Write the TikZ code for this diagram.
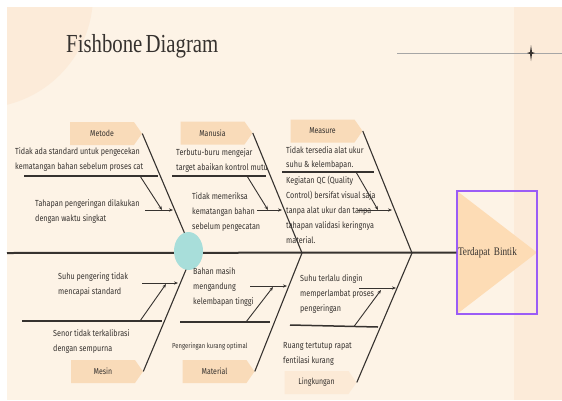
\documentclass[tikz,border=0pt]{standalone}
\usepackage{fontspec}
\usepackage{xcolor}
\usepackage{tikz}
\usetikzlibrary{shapes,arrows,positioning,calc,arrows.meta}
\setmainfont{Liberation Serif}
\newfontfamily\bonefont[FakeStretch=0.82]{Fira Sans}
\newfontfamily\titlefont[FakeStretch=0.8,WordSpace=0.6]{Liberation Serif}
\definecolor{cream}{HTML}{FDF3E6}
\definecolor{stripe}{HTML}{FCEBD9}
\definecolor{peach}{HTML}{F9DBB9}
\definecolor{peachlight}{HTML}{FCEAD6}
\definecolor{headfill}{HTML}{FDDCB5}
\definecolor{violet}{HTML}{9B5CF6}
\definecolor{tealdot}{HTML}{A8DEDA}
\definecolor{ink}{HTML}{36322F}

\tikzset{
  catbox/.style={signal, signal to=east, signal pointer angle=110, fill=peach,
    minimum width=72pt, minimum height=23pt, inner sep=0pt, text=ink,
    font=\bonefont\fontsize{8.5}{10}\selectfont},
  cause/.style={anchor=west, align=left, inner sep=0pt, text=ink,
    font=\bonefont\fontsize{8.8}{15}\selectfont},
  headbox/.style={draw=violet, line width=1.2pt, minimum width=80pt, minimum height=123pt,
    text width=78pt, inner xsep=1pt, align=left, text=ink,
    font=\titlefont\fontsize{11.5}{13}\selectfont,
    path picture={\fill[headfill] (path picture bounding box.north west) --
      (path picture bounding box.east) -- (path picture bounding box.south west) -- cycle;}},
  bone/.style={draw=ink, line width=1.1pt},
  rib/.style={draw=ink, line width=1.5pt},
  tick/.style={draw=ink, line width=0.9pt, ->},
}

\begin{document}
\begin{tikzpicture}[x=1pt, y=-1pt, >={Stealth[length=4pt,width=3.2pt]}]
    \useasboundingbox (0,0) rectangle (562,400);
    % backdrop
    \fill[white] (0,0) rectangle (562,400);
    \fill[cream] (7,7) rectangle (562,400);
    \fill[stripe] (514,7) rectangle (562,400);
    \begin{scope}
        \clip (7,7) rectangle (562,400);
        \fill[stripe] (-20,-5) circle (113pt);
    \end{scope}

    % title and top rule
    \node [anchor=base west, inner sep=0pt, text=ink, font=\titlefont\fontsize{26}{30}\selectfont] (title) at (66,52) {Fishbone Diagram};
    \coordinate (ruleL) at (397,53);
    \coordinate (ruleR) at (562,53);
    \draw [gray!70, line width=0.7pt] (ruleL) -- (ruleR);
    \fill [ink] (531,45) -- (532,52) -- (535,53) -- (532,54) -- (531,61) -- (530,54) -- (527,53) -- (530,52) -- cycle;

    % head and spine
    \node [headbox] (head) at (497,252.5) {Terdapat Bintik};
    \coordinate (tail) at (7,253);
    \draw [ink, line width=2pt] (tail) -- (head.west);
    \coordinate (j1) at (193,253);
    \coordinate (j2) at (302,253);
    \coordinate (j3) at (412,253);

    % categories
    \node [catbox] (metode) at (102,133.5) {Metode};
    \node [catbox] (manusia) at (212.5,133) {Manusia};
    \node [catbox] (measure) at (322.5,131) {Measure};
    \node [catbox] (mesin) at (103,371.5) {Mesin};
    \node [catbox] (material) at (214.5,371.5) {Material};
    \node [catbox, fill=peachlight] (lingkungan) at (316.5,382.5) {Lingkungan};

    \draw [bone] (metode.east) -- (j1);
    \draw [bone] (manusia.east) -- (j2);
    \draw [bone] (measure.east) -- (j3);
    \draw [bone] (j1) -- (mesin.east);
    \draw [bone] (j2) -- (material.east);
    \draw [bone] (j3) -- (lingkungan.east);

    \node [fill=tealdot, ellipse, minimum width=29pt, minimum height=38pt, inner sep=0pt] (dot) at (188.5,251) {};

    % Metode
    \node [cause] (tA) at (15,159) {Tidak ada standard untuk pengecekan\\kematangan bahan sebelum proses cat};
    \node [cause] (tB) at (35,211.5) {Tahapan pengeringan dilakukan\\dengan waktu singkat};
    \coordinate (mtL) at (24,176);
    \coordinate (mtR) at (158,176);
    \coordinate (mtS) at (140,176);
    \coordinate (mtE) at (162,210);
    \coordinate (mtA) at (145,210);
    \coordinate (mtB) at (173,210);
    \draw [rib] (mtL) -- (mtR);
    \draw [tick] (mtS) -- (mtE);
    \draw [tick] (mtA) -- (mtB);

    % Manusia
    \node [cause] (tC) at (176,160) {Terbutu-buru mengejar\\target abaikan kontrol mutu};
    \node [cause] (tD) at (192,212) {Tidak memeriksa\\kematangan bahan\\sebelum pengecatan};
    \coordinate (muL) at (172,176);
    \coordinate (muR) at (266,176);
    \coordinate (muS) at (247,176);
    \coordinate (muE) at (268,210);
    \coordinate (muA) at (257,210);
    \coordinate (muB) at (282,210);
    \draw [rib] (muL) -- (muR);
    \draw [tick] (muS) -- (muE);
    \draw [tick] (muA) -- (muB);

    % Measure
    \node [cause, font=\bonefont\fontsize{8.8}{14}\selectfont] (tE) at (286,158) {Tidak tersedia alat ukur\\suhu \& kelembapan.};
    \node [cause] (tF) at (286,210) {Kegiatan QC (Quality\\Control) bersifat visual saja\\tanpa alat ukur dan tanpa\\tahapan validasi keringnya\\material.};
    \coordinate (meL) at (282,172);
    \coordinate (meR) at (374,172);
    \coordinate (meS) at (356,172);
    \coordinate (meE) at (378,210);
    \coordinate (meA) at (358,210);
    \coordinate (meB) at (392,210);
    \draw [rib] (meL) -- (meR);
    \draw [tick] (meS) -- (meE);
    \draw [tick] (meA) -- (meB);

    % Mesin
    \node [cause] (tG) at (58,284) {Suhu pengering tidak\\mencapai standard};
    \node [cause] (tH) at (53,341) {Senor tidak terkalibrasi\\dengan sempurna};
    \coordinate (msL) at (22,321);
    \coordinate (msR) at (162,321);
    \coordinate (msS) at (140,321);
    \coordinate (msE) at (166,284);
    \coordinate (msA) at (142,283);
    \coordinate (msB) at (178,283);
    \draw [rib] (msL) -- (msR);
    \draw [tick] (msS) -- (msE);
    \draw [tick] (msA) -- (msB);

    % Material
    \node [cause] (tI) at (193,287) {Bahan masih\\mengandung\\kelembapan tinggi};
    \node [cause, font=\bonefont\fontsize{7.2}{9}\selectfont] (tJ) at (172,346) {Pengeringan kurang optimal};
    \coordinate (maL) at (180,322);
    \coordinate (maR) at (270,322);
    \coordinate (maS) at (246,322);
    \coordinate (maE) at (273,287);
    \coordinate (maA) at (250,286);
    \coordinate (maB) at (287,286);
    \draw [rib] (maL) -- (maR);
    \draw [tick] (maS) -- (maE);
    \draw [tick] (maA) -- (maB);

    % Lingkungan
    \node [cause] (tK) at (300,294) {Suhu terlalu dingin\\memperlambat proses\\pengeringan};
    \node [cause] (tL) at (283,354) {Ruang tertutup rapat\\fentilasi kurang};
    \coordinate (liL) at (290,325);
    \coordinate (liR) at (378,327);
    \coordinate (liS) at (354,326.5);
    \coordinate (liE) at (381,290);
    \coordinate (liA) at (359,288);
    \coordinate (liB) at (396,288);
    \draw [rib] (liL) -- (liR);
    \draw [tick] (liS) -- (liE);
    \draw [tick] (liA) -- (liB);
\end{tikzpicture}
\end{document}
